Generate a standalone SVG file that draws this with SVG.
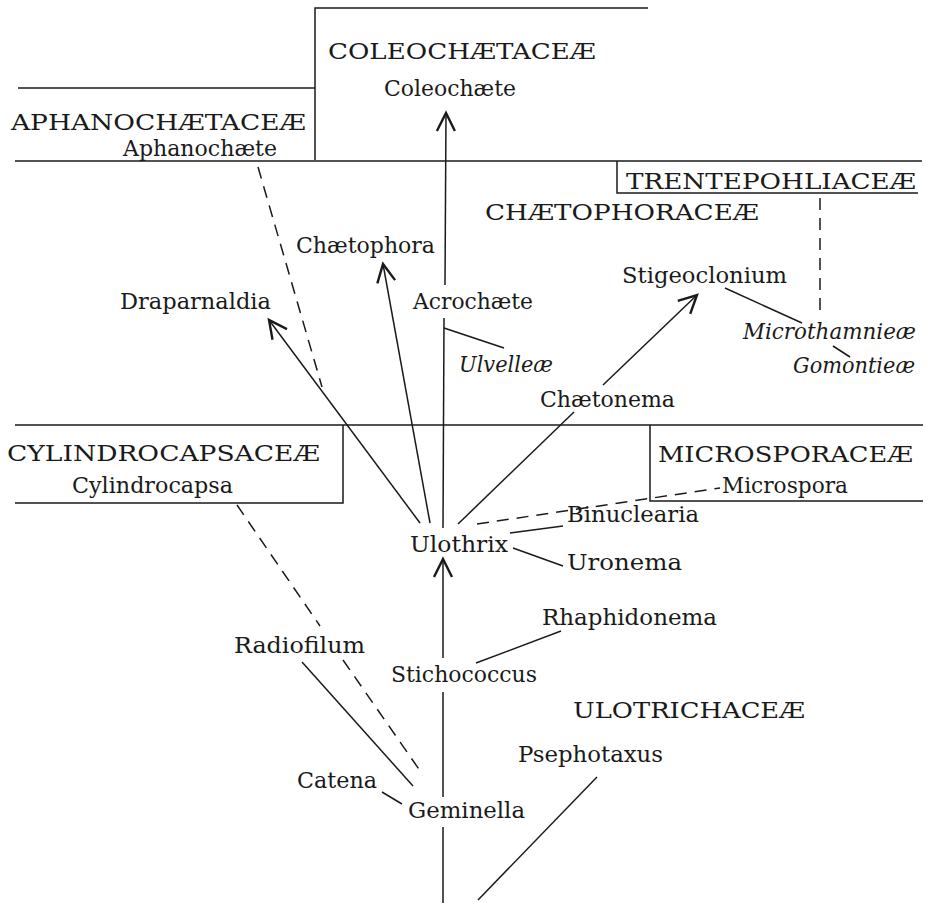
<svg xmlns="http://www.w3.org/2000/svg" width="931" height="904" viewBox="0 0 931 904">
<style>
text{font-family:"DejaVu Serif","Liberation Serif",serif;font-size:23px;fill:#1a1a1a}
.cap{font-size:23px}
.it{font-style:italic}
.ln{stroke:#1a1a1a;stroke-width:1.5;fill:none}
.da{stroke:#1a1a1a;stroke-width:1.5;fill:none;stroke-dasharray:12 8}
.ar{marker-end:url(#arr)}
</style>
<defs>
<marker id="arr" markerUnits="userSpaceOnUse" markerWidth="30" markerHeight="30" viewBox="-15 -10 20 20" refX="0" refY="0" orient="auto" overflow="visible">
<path d="M-12,-6 L0,0 L-12,6" fill="none" stroke="#1a1a1a" stroke-width="1.6"/>
</marker>
</defs>
<rect width="931" height="904" fill="#fff"/>
<g id="boxes">
<path class="ln" d="M315,160 V8 H648"/>
<path class="ln" d="M18,88 H315"/>
<path class="ln" d="M15,161 H922"/>
<path class="ln" d="M617,161 V193 H918"/>
<path class="ln" d="M15,425 H923"/>
<path class="ln" d="M343,425 V503 H15"/>
<path class="ln" d="M650,425 V501 H923"/>
</g>
<g id="connectors">
<path class="ln" d="M443,528 L444,318"/>
<path class="ln ar" d="M445,285 L446,113"/>
<path class="ln" d="M444,328 L504,348"/>
<path class="ln ar" d="M420,523 L269,320"/>
<path class="ln ar" d="M430,523 L383,264"/>
<path class="ln" d="M458,524 L574,412"/>
<path class="ln ar" d="M603,385 L697,295"/>
<path class="ln" d="M725,288 L802,323"/>
<path class="ln" d="M833,346 L850,357"/>
<path class="da" d="M820,198 V310"/>
<path class="da" d="M258,167 L322,387"/>
<path class="da" d="M477,524 L720,488"/>
<path class="ln" d="M510,533 L563,526"/>
<path class="ln" d="M513,548 L563,566"/>
<path class="ln ar" d="M443,658 L443,559"/>
<path class="ln" d="M443,797 L443,692"/>
<path class="ln" d="M443,903 L443,827"/>
<path class="ln" d="M476,663 L561,631"/>
<path class="ln" d="M597,777 L478,900"/>
<path class="ln" d="M302,662 L413,786"/>
<path class="da" d="M237,505 L320,626"/>
<path class="da" d="M343,660 L423,775"/>
<path class="ln" d="M382,792 L402,804"/>
</g>
<g id="coleochaetaceae"><text class="cap" x="328" y="59" textLength="268" lengthAdjust="spacingAndGlyphs">COLEOCHÆTACEÆ</text></g>
<g id="coleochaete"><text x="384" y="96" textLength="132" lengthAdjust="spacingAndGlyphs">Coleochæte</text></g>
<g id="aphanochaetaceae"><text class="cap" x="11" y="130" textLength="295" lengthAdjust="spacingAndGlyphs">APHANOCHÆTACEÆ</text></g>
<g id="aphanochaete"><text x="123" y="156" textLength="154" lengthAdjust="spacingAndGlyphs">Aphanochæte</text></g>
<g id="trentepohliaceae"><text class="cap" x="626" y="189" textLength="290" lengthAdjust="spacingAndGlyphs">TRENTEPOHLIACEÆ</text></g>
<g id="chaetophoraceae"><text class="cap" x="485" y="220" textLength="274" lengthAdjust="spacingAndGlyphs">CHÆTOPHORACEÆ</text></g>
<g id="chaetophora"><text x="296" y="253" textLength="139" lengthAdjust="spacingAndGlyphs">Chætophora</text></g>
<g id="stigeoclonium"><text x="622" y="283" textLength="165" lengthAdjust="spacingAndGlyphs">Stigeoclonium</text></g>
<g id="draparnaldia"><text x="120" y="309" textLength="151" lengthAdjust="spacingAndGlyphs">Draparnaldia</text></g>
<g id="acrochaete"><text x="413" y="309" textLength="120" lengthAdjust="spacingAndGlyphs">Acrochæte</text></g>
<g id="microthamnieae"><text class="it" x="743" y="339" textLength="173" lengthAdjust="spacingAndGlyphs">Microthamnieæ</text></g>
<g id="ulvelleae"><text class="it" x="459" y="372" textLength="94" lengthAdjust="spacingAndGlyphs">Ulvelleæ</text></g>
<g id="gomontieae"><text class="it" x="793" y="373" textLength="122" lengthAdjust="spacingAndGlyphs">Gomontieæ</text></g>
<g id="chaetonema"><text x="540" y="407" textLength="135" lengthAdjust="spacingAndGlyphs">Chætonema</text></g>
<g id="cylindrocapsaceae"><text class="cap" x="7" y="461" textLength="313" lengthAdjust="spacingAndGlyphs">CYLINDROCAPSACEÆ</text></g>
<g id="microsporaceae"><text class="cap" x="658" y="462" textLength="255" lengthAdjust="spacingAndGlyphs">MICROSPORACEÆ</text></g>
<g id="cylindrocapsa"><text x="72" y="493" textLength="161" lengthAdjust="spacingAndGlyphs">Cylindrocapsa</text></g>
<g id="microspora"><text x="722" y="493" textLength="126" lengthAdjust="spacingAndGlyphs">Microspora</text></g>
<g id="binuclearia"><text x="567" y="522" textLength="132" lengthAdjust="spacingAndGlyphs">Binuclearia</text></g>
<g id="ulothrix"><text x="410" y="552" textLength="98" lengthAdjust="spacingAndGlyphs">Ulothrix</text></g>
<g id="uronema"><text x="567" y="570" textLength="115" lengthAdjust="spacingAndGlyphs">Uronema</text></g>
<g id="rhaphidonema"><text x="542" y="625" textLength="175" lengthAdjust="spacingAndGlyphs">Rhaphidonema</text></g>
<g id="radiofilum"><text x="234" y="653" textLength="131" lengthAdjust="spacingAndGlyphs">Radiofilum</text></g>
<g id="stichococcus"><text x="391" y="682" textLength="146" lengthAdjust="spacingAndGlyphs">Stichococcus</text></g>
<g id="ulotrichaceae"><text class="cap" x="573" y="718" textLength="232" lengthAdjust="spacingAndGlyphs">ULOTRICHACEÆ</text></g>
<g id="psephotaxus"><text x="518" y="762" textLength="145" lengthAdjust="spacingAndGlyphs">Psephotaxus</text></g>
<g id="catena"><text x="297" y="788" textLength="80" lengthAdjust="spacingAndGlyphs">Catena</text></g>
<g id="geminella"><text x="408" y="818" textLength="117" lengthAdjust="spacingAndGlyphs">Geminella</text></g>
</svg>
